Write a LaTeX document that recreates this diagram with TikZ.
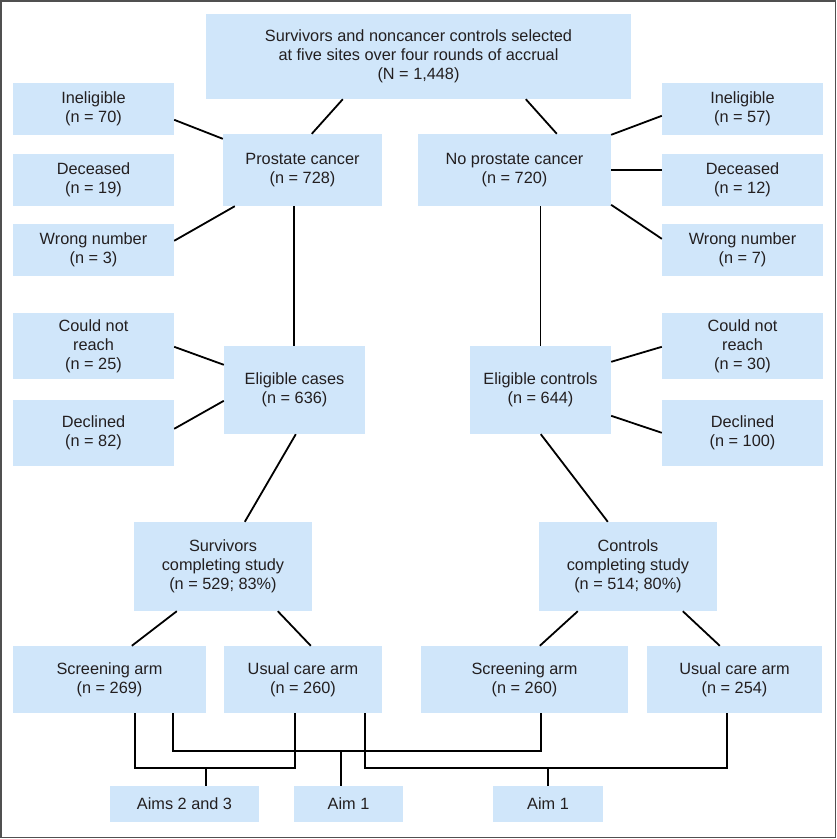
\documentclass[tikz,border=0pt]{standalone}
\usepackage{fontspec}
\setmainfont{Liberation Sans}
\definecolor{boxfill}{RGB}{208,230,250}
\definecolor{txt}{RGB}{35,31,32}
\definecolor{frame}{RGB}{80,80,80}
\newcommand\bx[6]{\node[box, minimum width={(#4-#2)*1pt}, minimum height={(#5-#3)*1pt}] (#1) at ({(#2+#4)/2},{-(#3+#5)/2}) {#6};}
\begin{document}
\begin{tikzpicture}[x=1pt,y=1pt,
  box/.style={fill=boxfill, draw=none, inner sep=0pt, align=center, text=txt,
    font=\fontsize{16.3}{19.2}\selectfont},
  conn/.style={draw=black, line width=1.8pt},
  border/.style={draw=frame, line width=1.3pt}]
\useasboundingbox (0,0) rectangle (837,-839);
\draw[border] (1,-1) rectangle (835.5,-837.5);
% boxes
\bx{top}{206}{14}{631}{99}{Survivors and noncancer controls selected\\at five sites over four rounds of accrual\\(N = 1,448)}
\bx{inelL}{13}{83}{174}{135}{Ineligible\\(n = 70)}
\bx{decL}{13}{154}{174}{206}{Deceased\\(n = 19)}
\bx{wrongL}{13}{224}{174}{276}{Wrong number\\(n = 3)}
\bx{pc}{223}{134}{382}{206}{Prostate cancer\\(n = 728)}
\bx{npc}{418}{134}{611}{206}{No prostate cancer\\(n = 720)}
\bx{inelR}{662}{83}{823}{135}{Ineligible\\(n = 57)}
\bx{decR}{662}{154}{823}{206}{Deceased\\(n = 12)}
\bx{wrongR}{662}{224}{823}{276}{Wrong number\\(n = 7)}
\bx{cnrL}{13}{313}{174}{379}{Could not\\reach\\(n = 25)}
\bx{declL}{13}{400}{174}{466}{Declined\\(n = 82)}
\bx{ec}{224}{346}{365}{434}{Eligible cases\\(n = 636)}
\bx{ectl}{470}{346}{611}{434}{Eligible controls\\(n = 644)}
\bx{cnrR}{662}{313}{823}{379}{Could not\\reach\\(n = 30)}
\bx{declR}{662}{400}{823}{466}{Declined\\(n = 100)}
\bx{surv}{134}{522}{312}{611}{Survivors\\completing study\\(n = 529; 83\%)}
\bx{ctrl}{539}{522}{717}{611}{Controls\\completing study\\(n = 514; 80\%)}
\bx{scrL}{13}{646}{206}{713}{Screening arm\\(n = 269)}
\bx{ucL}{224}{646}{382}{713}{Usual care arm\\(n = 260)}
\bx{scrR}{421}{646}{628}{713}{Screening arm\\(n = 260)}
\bx{ucR}{647}{646}{822}{713}{Usual care arm\\(n = 254)}
\bx{aims}{110}{786}{259}{822}{Aims 2 and 3}
\bx{aimA}{294}{786}{403}{822}{Aim 1}
\bx{aimB}{493}{786}{603}{822}{Aim 1}
% connectors
\draw[conn] ([xshift=137pt]top.south west) -- ([xshift=89pt]pc.north west);
\draw[conn] ([xshift=320pt]top.south west) -- ([xshift=139pt]npc.north west);
\draw[conn] ([yshift=-37pt]inelL.north east) -- ([yshift=-5pt]pc.north west);
\draw[conn] ([yshift=-17pt]wrongL.north east) -- ([xshift=12pt]pc.south west);
\draw[conn] ([xshift=71.3pt]pc.south west) -- ([xshift=70.3pt]ec.north west);
\draw[conn] ([yshift=-1pt]npc.north east) -- ([yshift=-33pt]inelR.north west);
\draw[conn] ([yshift=-36pt]npc.north east) -- ([yshift=-16pt]decR.north west);
\draw[conn] ([yshift=-71pt]npc.north east) -- ([yshift=-15pt]wrongR.north west);
\draw[conn] ([xshift=122.7pt]npc.south west) -- ([xshift=70.7pt]ectl.north west);
\draw[conn] ([yshift=-34pt]cnrL.north east) -- ([yshift=-19pt]ec.north west);
\draw[conn] ([yshift=-29pt]declL.north east) -- ([yshift=-55pt]ec.north west);
\draw[conn] ([xshift=72pt]ec.south west) -- ([xshift=111pt]surv.north west);
\draw[conn] ([yshift=-16pt]ectl.north east) -- ([yshift=-34pt]cnrR.north west);
\draw[conn] ([yshift=-70pt]ectl.north east) -- ([yshift=-33pt]declR.north west);
\draw[conn] ([xshift=71pt]ectl.south west) -- ([xshift=69pt]ctrl.north west);
\draw[conn] ([xshift=43pt]surv.south west) -- ([xshift=119pt]scrL.north west);
\draw[conn] ([xshift=144pt]surv.south west) -- ([xshift=87pt]ucL.north west);
\draw[conn] ([xshift=39pt]ctrl.south west) -- ([xshift=119pt]scrR.north west);
\draw[conn] ([xshift=144pt]ctrl.south west) -- ([xshift=73pt]ucR.north west);
% bottom brackets
\draw[conn] ([xshift=122pt]scrL.south west) -- ++(0,-55) -| ([xshift=71pt]ucL.south west);
\draw[conn] ([xshift=96pt]aims.north west) -- ++(0,18);
\draw[conn] ([xshift=160pt]scrL.south west) -- ++(0,-38) -| ([xshift=120pt]scrR.south west);
\draw[conn] ([xshift=47pt]aimA.north west) -- ++(0,35);
\draw[conn] ([xshift=141pt]ucL.south west) -- ++(0,-55) -| ([xshift=80pt]ucR.south west);
\draw[conn] (aimB.north) -- ++(0,18);
\end{tikzpicture}
\end{document}
